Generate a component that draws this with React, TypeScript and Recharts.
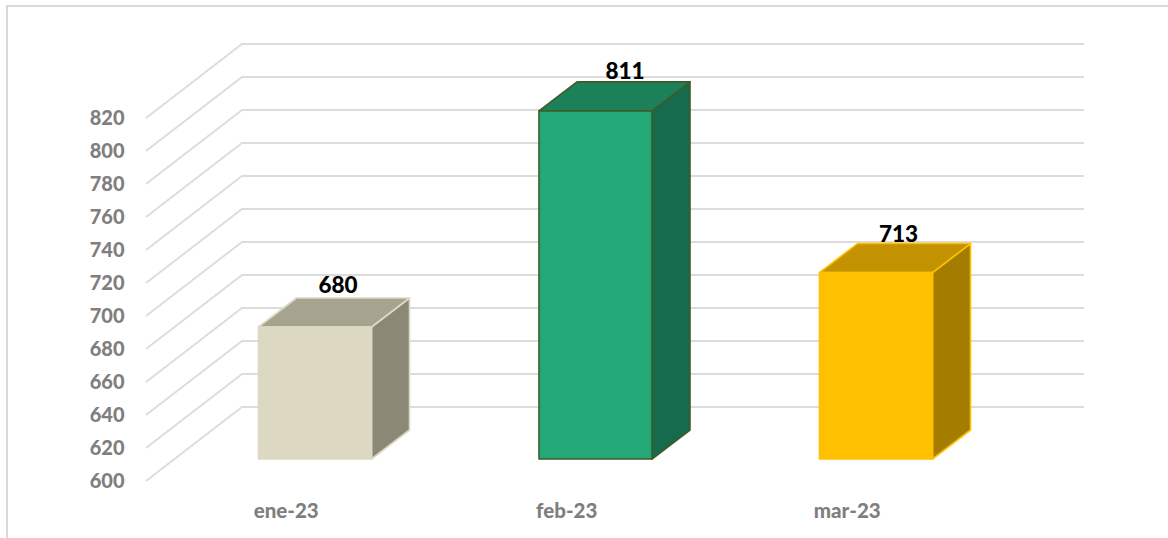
import React from "react";
import { BarChart, Bar, XAxis, YAxis, CartesianGrid, LabelList } from "recharts";

const months = ["ene-23", "feb-23", "mar-23"];
const totals = [680, 811, 713];
const axisTicks = [600, 620, 640, 660, 680, 700, 720, 740, 760, 780, 800, 820];

const frontColors = ["#DDD8C2", "#23A877", "#FFC000"];
const topColors = ["#A6A38F", "#1C8059", "#C29200"];
const sideColors = ["#8B8875", "#166A4D", "#A37C00"];
const edgeColors = ["#DDD8C2", "#3F5B27", "#FFC000"];

const rows = months.map((month, i) => ({ month, total: totals[i] }));

// Oblique projection: how far a bar's depth runs, and where the floor meets wall and front edge.
const BAR_DEPTH_X = 38;
const BAR_DEPTH_Y = 29;
const FRONT_DX = 28.5;
const FRONT_DY = 22;
const WALL_DX = 67.5;
const WALL_DY = 52;
const WALL_RIGHT = 1084;

// Hand placement of the total above each box, relative to its front face.
const labelShiftX = [23, 29.5, 22.5];
const labelShiftY = [-34, -32, -31];

const FONT = "Lato, Carlito, Calibri, sans-serif";
const GREY = "#7F7F7F";

function Box(props: any) {
  const { x, y, width, height, index } = props;
  const right = x + width;
  const bottom = y + height;
  const edge = edgeColors[index];
  const top = `${x},${y} ${x + BAR_DEPTH_X},${y - BAR_DEPTH_Y} ${right + BAR_DEPTH_X},${y - BAR_DEPTH_Y} ${right},${y}`;
  const side = `${right},${y} ${right + BAR_DEPTH_X},${y - BAR_DEPTH_Y} ${right + BAR_DEPTH_X},${bottom - BAR_DEPTH_Y} ${right},${bottom}`;
  return (
    <g strokeWidth={1.6} stroke={edge} strokeLinejoin="round">
      <polygon points={side} fill={sideColors[index]} />
      <polygon points={top} fill={topColors[index]} />
      <rect x={x} y={y} width={width} height={height} fill={frontColors[index]} />
    </g>
  );
}

// One floor-and-wall grid line: up the side wall, then along the back wall.
function WallLine(props: any) {
  const { x1, y1 } = props;
  return (
    <polyline
      points={`${x1 - FRONT_DX},${y1 + FRONT_DY} ${x1 + WALL_DX},${y1 - WALL_DY} ${WALL_RIGHT},${y1 - WALL_DY}`}
      fill="none"
      stroke="#DCDCDC"
      strokeWidth={1.9}
    />
  );
}

function ValueTick(props: any) {
  const { y, payload } = props;
  return (
    <text x={124.5} y={y + FRONT_DY + 7} textAnchor="end" fontFamily={FONT} fontWeight={900} fontSize={20} fill={GREY}>
      {payload.value}
    </text>
  );
}

function MonthTick(props: any) {
  const { x, payload } = props;
  return (
    <text x={x - FRONT_DX} y={518} textAnchor="middle" fontFamily={FONT} fontWeight={900} fontSize={20.5} fill={GREY}>
      {payload.value}
    </text>
  );
}

function TotalLabel(props: any) {
  const { x, y, width, value, index } = props;
  return (
    <text
      x={x + width / 2 + labelShiftX[index]}
      y={y + labelShiftY[index]}
      textAnchor="middle"
      fontFamily={FONT}
      fontWeight={900}
      fontSize={22.5}
      fill="#000000"
    >
      {value}
    </text>
  );
}

export default function App() {
  return (
    <div style={{ position: "absolute", left: 0, top: 0, width: 1168, height: 538, background: "#FFFFFF" }}>
      <div
        style={{
          position: "absolute",
          left: 6,
          top: 5,
          width: 1162,
          height: 533,
          boxSizing: "border-box",
          borderTop: "2px solid #D9D9D9",
          borderLeft: "2px solid #D9D9D9",
        }}
      />
      <div style={{ position: "absolute", left: 0, top: 0 }}>
        <BarChart
          width={1168}
          height={538}
          data={rows}
          barSize={113}
          margin={{ left: 173.5, right: 152, top: 96, bottom: 78 }}
        >
          <CartesianGrid vertical={false} horizontal={(p: any) => <WallLine key={p.key ?? p.y1} {...p} />} />
          <XAxis dataKey="month" height={1} axisLine={false} tickLine={false} tick={MonthTick} interval={0} />
          <YAxis
            type="number"
            domain={[600, 820]}
            ticks={axisTicks}
            width={1}
            axisLine={false}
            tickLine={false}
            tick={ValueTick}
            interval={0}
          />
          <Bar dataKey="total" shape={Box} isAnimationActive={false}>
            <LabelList dataKey="total" content={TotalLabel} />
          </Bar>
        </BarChart>
      </div>
    </div>
  );
}
